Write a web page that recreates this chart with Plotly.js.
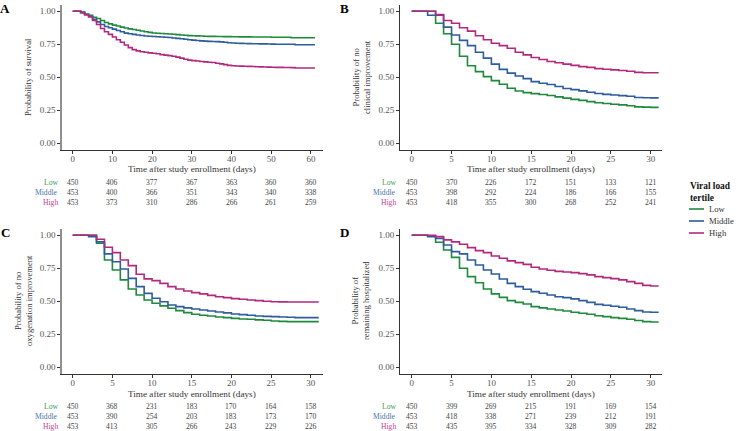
<!DOCTYPE html>
<html>
<head>
<meta charset="utf-8">
<script src="https://cdn.plot.ly/plotly-3.0.1.min.js"></script>
<style>html,body{margin:0;padding:0;background:#fff;}#chart{width:736px;height:431px;}</style>
</head>
<body>
<div id="chart"></div>
<script>
// ---------- DATA ----------
const groups = ["Low", "Middle", "High"];
const groupColors = ["#1f8a3c", "#2d5d9c", "#b3287f"];
const labelColors = ["#3a9a55", "#4a73ad", "#c0468f"];

// Panel A: survival (days 0-61)
const daysA = [0,1,2,3,4,5,6,7,8,9,10,11,12,13,14,15,16,17,18,19,20,21,22,23,24,25,26,27,28,29,30,31,32,33,34,35,36,37,38,39,40,41,42,43,44,45,46,47,48,49,50,51,52,53,54,55,56,57,58,59,60,61];
const survLow = [1,1,0.995,0.98,0.97,0.955,0.945,0.93,0.915,0.905,0.895,0.889,0.88,0.874,0.867,0.862,0.856,0.851,0.845,0.84,0.836,0.834,0.832,0.83,0.828,0.826,0.823,0.82,0.818,0.816,0.815,0.814,0.813,0.811,0.81,0.81,0.809,0.809,0.808,0.808,0.807,0.807,0.806,0.806,0.806,0.805,0.805,0.805,0.805,0.805,0.803,0.803,0.803,0.803,0.803,0.8,0.8,0.8,0.8,0.8,0.8,0.8];
const survMiddle = [1,1,0.99,0.975,0.96,0.94,0.92,0.9,0.885,0.875,0.865,0.855,0.845,0.835,0.83,0.825,0.82,0.817,0.813,0.811,0.809,0.807,0.805,0.803,0.801,0.798,0.795,0.792,0.788,0.785,0.782,0.779,0.776,0.774,0.772,0.771,0.77,0.768,0.765,0.762,0.76,0.758,0.757,0.756,0.755,0.754,0.754,0.753,0.753,0.752,0.751,0.75,0.75,0.75,0.75,0.75,0.747,0.747,0.747,0.747,0.747,0.747];
const survHigh = [1,1,0.99,0.975,0.96,0.93,0.9,0.87,0.845,0.825,0.805,0.785,0.765,0.745,0.725,0.71,0.7,0.694,0.69,0.685,0.682,0.678,0.672,0.668,0.664,0.66,0.653,0.645,0.637,0.63,0.626,0.623,0.62,0.617,0.614,0.612,0.607,0.602,0.596,0.59,0.587,0.586,0.585,0.584,0.583,0.582,0.58,0.579,0.578,0.577,0.576,0.575,0.575,0.574,0.574,0.573,0.57,0.57,0.57,0.57,0.57,0.57];

// Panels B, C, D (days 0-31)
const days30 = [0,1,2,3,4,5,6,7,8,9,10,11,12,13,14,15,16,17,18,19,20,21,22,23,24,25,26,27,28,29,30,31];

const clinLow = [1,1,1,0.91,0.83,0.75,0.66,0.587,0.543,0.505,0.475,0.447,0.417,0.396,0.384,0.376,0.37,0.362,0.352,0.342,0.333,0.325,0.316,0.307,0.301,0.296,0.291,0.285,0.276,0.274,0.272,0.272];
const clinMiddle = [1,1,0.97,0.97,0.88,0.82,0.78,0.74,0.69,0.645,0.6,0.56,0.532,0.51,0.49,0.467,0.455,0.445,0.43,0.415,0.407,0.397,0.387,0.377,0.371,0.366,0.361,0.356,0.347,0.345,0.344,0.344];
const clinHigh = [1,1,1,0.975,0.93,0.91,0.875,0.85,0.815,0.785,0.758,0.74,0.72,0.69,0.67,0.65,0.635,0.62,0.61,0.6,0.59,0.581,0.575,0.566,0.561,0.556,0.551,0.546,0.537,0.535,0.535,0.535];

const oxyLow = [1,1,1,0.94,0.813,0.737,0.662,0.593,0.548,0.51,0.485,0.465,0.447,0.429,0.414,0.402,0.394,0.389,0.381,0.376,0.371,0.366,0.364,0.359,0.356,0.351,0.348,0.346,0.346,0.346,0.346,0.346];
const oxyMiddle = [1,1,0.99,0.95,0.859,0.8,0.745,0.674,0.611,0.56,0.523,0.497,0.472,0.46,0.45,0.442,0.434,0.427,0.419,0.412,0.404,0.399,0.394,0.389,0.386,0.384,0.381,0.379,0.376,0.376,0.376,0.376];
const oxyHigh = [1,1,1,0.97,0.91,0.869,0.813,0.77,0.705,0.67,0.657,0.636,0.611,0.593,0.578,0.566,0.556,0.545,0.535,0.528,0.52,0.515,0.51,0.505,0.5,0.497,0.496,0.495,0.495,0.495,0.495,0.495];

const hospLow = [1,1,0.995,0.947,0.889,0.833,0.75,0.687,0.641,0.593,0.556,0.53,0.505,0.492,0.48,0.46,0.45,0.442,0.434,0.427,0.417,0.409,0.402,0.391,0.384,0.376,0.371,0.364,0.354,0.346,0.343,0.343];
const hospMiddle = [1,1,0.99,0.977,0.927,0.876,0.859,0.813,0.775,0.737,0.707,0.669,0.636,0.611,0.591,0.573,0.561,0.548,0.535,0.528,0.518,0.505,0.492,0.477,0.47,0.462,0.455,0.442,0.429,0.419,0.417,0.417];
const hospHigh = [1,1,1,0.99,0.965,0.95,0.932,0.907,0.884,0.869,0.843,0.826,0.806,0.793,0.78,0.758,0.745,0.735,0.727,0.722,0.717,0.71,0.7,0.687,0.679,0.672,0.662,0.649,0.636,0.621,0.616,0.616];

// Numbers at risk
const riskTimesA = [0,10,20,30,40,50,60];
const riskTimes30 = [0,5,10,15,20,25,30];
const riskA = [[450,406,377,367,363,360,360],[453,400,366,351,343,340,338],[453,373,310,286,266,261,259]];
const riskB = [[450,370,226,172,151,133,121],[453,398,292,224,186,166,155],[453,418,355,300,268,252,241]];
const riskC = [[450,368,231,183,170,164,158],[453,390,254,203,183,173,170],[453,413,305,266,243,229,226]];
const riskD = [[450,399,269,215,191,169,154],[453,418,338,271,239,212,191],[453,435,395,334,328,309,282]];

const yTitles = ["Probability of survival", "Probability of no<br>clinical improvement", "Probability of no<br>oxygenation improvement", "Probability of<br>remaining hospitalized"];
const panelLetters = ["A", "B", "C", "D"];
const xTitle = "Time after study enrollment (days)";
const yTickVals = [0, 0.25, 0.5, 0.75, 1];
const yTickText = ["0.00", "0.25", "0.50", "0.75", "1.00"];
const legendTitle = "Viral load<br>tertile";

// ---------- LAYOUT HELPERS ----------
const W = 736, H = 431;
const px = v => v / W;
const py = v => 1 - v / H;
const FONT = "Liberation Serif, DejaVu Serif, serif";

const panels = [
  {ax: "x",  ay: "y",  days: daysA,  series: [survLow, survMiddle, survHigh], risk: riskA, rt: riskTimesA,
   xdom: [px(62), px(322.7)], ydom: [py(149.9), py(4.7)], xr: [-2.7, 62.95], dt: 10, yAxisCol: "#8f8f8f", yAxisW: 1.6,
   rows: [182.3, 192.3, 202.3], labX: 59.5, ytx: 28, yty: 77, letter: [5, 9], xtitleY: 169.5},
  {ax: "x2", ay: "y2", days: days30, series: [clinLow, clinMiddle, clinHigh], risk: riskB, rt: riskTimes30,
   xdom: [px(400), px(661.7)], ydom: [py(149.9), py(4.7)], xr: [-1.47, 31.38], dt: 5, yAxisCol: "#333333", yAxisW: 1,
   rows: [182.3, 192.3, 202.3], labX: 397.7, ytx: 361, yty: 77, letter: [344, 9], xtitleY: 169.5},
  {ax: "x3", ay: "y3", days: days30, series: [oxyLow, oxyMiddle, oxyHigh], risk: riskC, rt: riskTimes30,
   xdom: [px(62), px(322.7)], ydom: [py(373.9), py(228.7)], xr: [-1.35, 31.5], dt: 5, yAxisCol: "#8f8f8f", yAxisW: 1.6,
   rows: [406.7, 416.7, 426.7], labX: 59.5, ytx: 23, yty: 301, letter: [5, 232], xtitleY: 393.8},
  {ax: "x4", ay: "y4", days: days30, series: [hospLow, hospMiddle, hospHigh], risk: riskD, rt: riskTimes30,
   xdom: [px(400), px(661.7)], ydom: [py(373.9), py(228.7)], xr: [-1.47, 31.38], dt: 5, yAxisCol: "#333333", yAxisW: 1,
   rows: [406.7, 416.7, 426.7], labX: 397.7, ytx: 360, yty: 301, letter: [344, 232], xtitleY: 393.8}
];

const traces = [];
const annotations = [];
const shapes = [];
const layout = {
  width: W, height: H,
  margin: {l: 0, r: 0, t: 0, b: 0},
  paper_bgcolor: "#ffffff",
  plot_bgcolor: "#ffffff",
  showlegend: false,
  font: {family: FONT, color: "#333"}
};

panels.forEach((p, i) => {
  const n = i === 0 ? "" : String(i + 1);
  p.series.forEach((s, g) => {
    traces.push({
      type: "scatter", mode: "lines", x: p.days, y: s, xaxis: p.ax, yaxis: p.ay,
      name: groups[g], line: {color: groupColors[g], width: 1.6, shape: "hv"},
      hoverinfo: "skip"
    });
  });
  layout["xaxis" + n] = {
    domain: p.xdom, range: p.xr, anchor: p.ay, showgrid: false, zeroline: false,
    showline: true, linecolor: "#333", linewidth: 1,
    ticks: "outside", ticklen: 3, tickcolor: "#333", tickwidth: 1,
    tickmode: "linear", tick0: 0, dtick: p.dt, ticklabelstandoff: -3,
    tickfont: {family: FONT, size: 9, color: "#555"}
  };
  layout["yaxis" + n] = {
    domain: p.ydom, range: [-0.05, 1.05], anchor: p.ax, showgrid: false, zeroline: false,
    showline: true, linecolor: p.yAxisCol, linewidth: p.yAxisW,
    ticks: "outside", ticklen: 3, tickcolor: "#333", tickwidth: 1,
    tickvals: yTickVals, ticktext: yTickText,
    tickfont: {family: FONT, size: 9, color: "#555"}
  };
  annotations.push({
    xref: "paper", yref: "paper", x: (p.xdom[0] + p.xdom[1]) / 2, y: py(p.xtitleY),
    text: xTitle, showarrow: false, xanchor: "center", yanchor: "middle",
    font: {family: FONT, size: 9.2, color: "#333"}
  });
  annotations.push({
    xref: "paper", yref: "paper", x: px(p.ytx), y: py(p.yty), textangle: -90,
    text: yTitles[i], showarrow: false, xanchor: "center", yanchor: "middle",
    font: {family: FONT, size: 8.6, color: "#333"}
  });
  annotations.push({
    xref: "paper", yref: "paper", x: px(p.letter[0]), y: py(p.letter[1]),
    text: "<b>" + panelLetters[i] + "</b>", showarrow: false, xanchor: "center", yanchor: "middle",
    font: {family: FONT, size: 13, color: "#000"}
  });
  p.risk.forEach((row, g) => {
    annotations.push({
      xref: "paper", yref: "paper", x: px(p.labX), y: py(p.rows[g]),
      text: groups[g], showarrow: false, xanchor: "right", yanchor: "middle",
      font: {family: FONT, size: 7.6, color: labelColors[g]}
    });
    row.forEach((v, k) => {
      annotations.push({
        xref: p.ax, yref: "paper", x: p.rt[k], y: py(p.rows[g]),
        text: String(v), showarrow: false, xanchor: "center", yanchor: "middle",
        font: {family: FONT, size: 7.6, color: "#444"}
      });
    });
  });
});

// Legend (custom)
annotations.push({
  xref: "paper", yref: "paper", x: px(688), y: py(179.5), text: "<b>" + legendTitle + "</b>",
  showarrow: false, xanchor: "left", yanchor: "top", align: "left",
  font: {family: FONT, size: 9.4, color: "#111"}
});
const legY = [209, 221, 233];
groups.forEach((g, k) => {
  shapes.push({type: "line", xref: "paper", yref: "paper", x0: px(689), x1: px(704), y0: py(legY[k]), y1: py(legY[k]),
    line: {color: groupColors[k], width: 1.6}});
  annotations.push({
    xref: "paper", yref: "paper", x: px(706.5), y: py(legY[k]), text: g, showarrow: false,
    xanchor: "left", yanchor: "middle", font: {family: FONT, size: 8.6, color: "#333"}
  });
});

layout.annotations = annotations;
layout.shapes = shapes;

Plotly.newPlot("chart", traces, layout, {staticPlot: true, displayModeBar: false});
</script>
</body>
</html>
